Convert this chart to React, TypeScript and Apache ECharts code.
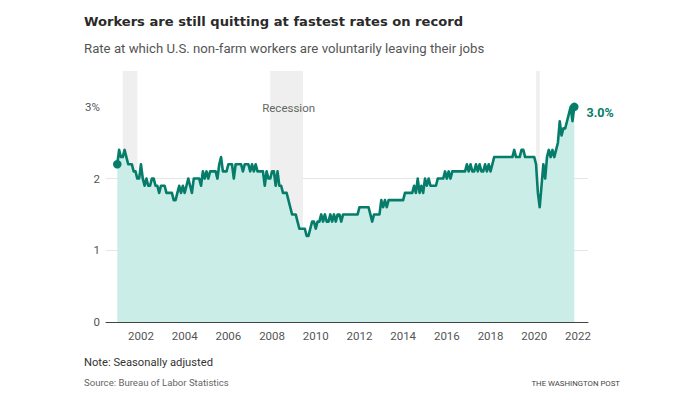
import React, { useEffect, useRef } from "react";
import * as echarts from "echarts";

// Monthly quits rate (%), total non-farm, seasonally adjusted
const startYear = 2000;
const startMonth = 11; // December 2000 (0 = January)
const rate2000 = [2.2];
const rate2001 = [2.4, 2.3, 2.3, 2.4, 2.3, 2.2, 2.2, 2.2, 2.1, 2.1, 2.0, 2.0];
const rate2002 = [2.2, 2.0, 1.9, 2.0, 1.9, 1.9, 2.0, 2.0, 1.9, 1.9, 1.8, 1.9];
const rate2003 = [1.9, 1.9, 1.8, 1.8, 1.8, 1.8, 1.7, 1.7, 1.8, 1.9, 1.8, 1.9];
const rate2004 = [1.8, 1.9, 2.0, 1.9, 1.8, 2.0, 2.0, 2.0, 2.0, 1.9, 2.1, 2.0];
const rate2005 = [2.1, 2.0, 2.1, 2.1, 2.1, 2.1, 2.0, 2.2, 2.3, 2.1, 2.1, 2.1];
const rate2006 = [2.2, 2.2, 2.2, 2.0, 2.2, 2.2, 2.2, 2.2, 2.1, 2.2, 2.2, 2.2];
const rate2007 = [2.1, 2.2, 2.1, 2.2, 2.1, 2.1, 2.1, 2.1, 1.9, 2.1, 2.0, 2.0];
const rate2008 = [2.1, 2.1, 1.9, 2.1, 1.9, 1.9, 1.8, 1.8, 1.8, 1.7, 1.6, 1.5];
const rate2009 = [1.5, 1.5, 1.4, 1.3, 1.3, 1.3, 1.3, 1.2, 1.2, 1.3, 1.4, 1.4];
const rate2010 = [1.3, 1.4, 1.4, 1.5, 1.4, 1.5, 1.4, 1.4, 1.5, 1.4, 1.5, 1.4];
const rate2011 = [1.5, 1.5, 1.4, 1.5, 1.5, 1.5, 1.5, 1.5, 1.5, 1.5, 1.5, 1.5];
const rate2012 = [1.6, 1.6, 1.6, 1.6, 1.6, 1.6, 1.5, 1.4, 1.5, 1.5, 1.5, 1.5];
const rate2013 = [1.7, 1.6, 1.7, 1.6, 1.7, 1.7, 1.7, 1.7, 1.7, 1.7, 1.7, 1.7];
const rate2014 = [1.7, 1.8, 1.8, 1.8, 1.8, 1.8, 1.9, 1.8, 2.0, 1.8, 1.9, 1.8];
const rate2015 = [2.0, 1.9, 2.0, 1.9, 1.9, 1.9, 1.9, 2.0, 2.0, 2.0, 2.0, 2.1];
const rate2016 = [2.0, 2.1, 2.0, 2.1, 2.1, 2.1, 2.1, 2.1, 2.1, 2.1, 2.1, 2.2];
const rate2017 = [2.1, 2.2, 2.1, 2.1, 2.2, 2.1, 2.2, 2.1, 2.1, 2.2, 2.1, 2.2];
const rate2018 = [2.1, 2.2, 2.3, 2.3, 2.3, 2.3, 2.3, 2.3, 2.3, 2.3, 2.3, 2.3];
const rate2019 = [2.3, 2.4, 2.3, 2.3, 2.3, 2.4, 2.4, 2.3, 2.3, 2.3, 2.3, 2.3];
const rate2020 = [2.3, 2.2, 1.8, 1.6, 1.9, 2.2, 2.0, 2.3, 2.4, 2.3, 2.4, 2.3];
const rate2021 = [2.4, 2.5, 2.8, 2.6, 2.7, 2.7, 2.8, 2.9, 3.0, 2.8, 3.0];

// Recessions (decimal years)
const recessionStarts = [2001 + 2 / 12, 2007 + 11 / 12, 2020 + 1 / 12];
const recessionEnds = [2001 + 10 / 12, 2009 + 5 / 12, 2020 + 3 / 12];
const recessionLabelIndex = 1;

const xTickYears = [2002, 2004, 2006, 2008, 2010, 2012, 2014, 2016, 2018, 2020, 2022];
const yTicks = [0, 1, 2, 3];

const allRates = [
  ...rate2000, ...rate2001, ...rate2002, ...rate2003, ...rate2004, ...rate2005,
  ...rate2006, ...rate2007, ...rate2008, ...rate2009, ...rate2010, ...rate2011,
  ...rate2012, ...rate2013, ...rate2014, ...rate2015, ...rate2016, ...rate2017,
  ...rate2018, ...rate2019, ...rate2020, ...rate2021,
];

const TEAL = "#067d6a";
const AREA = "#cbede8";

export default function App() {
  const ref = useRef<HTMLDivElement>(null);
  useEffect(() => {
    if (!ref.current) return;
    const chart = echarts.init(ref.current, null, { renderer: "svg" });
    const points = allRates.map((v, k) => [startYear + (startMonth + k) / 12, v]);
    const first = points[0];
    const last = points[points.length - 1];

    const option: any = {
      animation: false,
      grid: { left: 106, right: 112, top: 71, bottom: 92 },
      xAxis: {
        type: "value",
        min: 2000.4,
        max: 2022.46,
        axisLine: { show: true, onZero: true, lineStyle: { color: "#444", width: 1 } },
        axisTick: { show: false },
        splitLine: { show: false },
        axisLabel: {
          customValues: xTickYears,
          formatter: (v: number) => String(Math.round(v)),
          color: "#555",
          fontFamily: "Roboto",
          fontSize: 11.5,
          margin: 8,
        },
      },
      yAxis: {
        type: "value",
        min: 0,
        max: 3.5,
        interval: 1,
        axisLine: { show: false },
        axisTick: { show: false, customValues: yTicks },
        splitLine: {
          show: true,
          showMinLine: false,
          showMaxLine: false,
          lineStyle: { color: "#e6e6e6", width: 1 },
        },
        axisLabel: {
          customValues: yTicks,
          formatter: (v: number) => (v === yTicks[yTicks.length - 1] ? `${v}%` : String(v)),
          color: "#555",
          fontFamily: "Roboto",
          fontSize: 11.5,
          margin: 6,
        },
      },
      series: [
        {
          type: "line",
          data: [],
          z: 1,
          silent: true,
          markArea: {
            silent: true,
            itemStyle: { color: "#efefef" },
            label: { show: false },
            data: recessionStarts.map((s, i) => [
              {
                xAxis: s,
                name: i === recessionLabelIndex ? "Recession" : "",
                label:
                  i === recessionLabelIndex
                    ? {
                        show: true,
                        position: "insideTop",
                        distance: 31,
                        offset: [2, 0],
                        color: "#666",
                        fontFamily: "Roboto",
                        fontSize: 11.5,
                      }
                    : { show: false },
              },
              { xAxis: recessionEnds[i] },
            ]),
          },
        },
        {
          type: "line",
          data: points,
          z: 3,
          showSymbol: false,
          symbol: "none",
          lineStyle: { color: TEAL, width: 2.6, join: "round" },
          areaStyle: { color: AREA, opacity: 1, origin: "start" },
          silent: true,
        },
        {
          type: "scatter",
          z: 4,
          data: [first, last],
          symbolSize: 8.5,
          itemStyle: { color: TEAL, opacity: 1 },
          silent: true,
          label: {
            show: true,
            position: "right",
            distance: 8,
            offset: [0, 6],
            formatter: (p: any) =>
              p.dataIndex === 1 ? `${p.value[1].toFixed(1)}%` : "",
            color: TEAL,
            fontFamily: "Roboto",
            fontWeight: "bold",
            fontSize: 12.5,
          },
        },
      ],
      graphic: [
        {
          type: "text",
          x: 84,
          y: 21,
          style: {
            text: "Workers are still quitting at fastest rates on record",
            fill: "#2a2a2a",
            font: "bold 13.1px 'DejaVu Sans', Roboto, sans-serif",
            verticalAlign: "middle",
          },
        },
        {
          type: "text",
          x: 84,
          y: 48,
          style: {
            text: "Rate at which U.S. non-farm workers are voluntarily leaving their jobs",
            fill: "#555",
            font: "13.2px Roboto, sans-serif",
            verticalAlign: "middle",
          },
        },
        {
          type: "text",
          x: 84,
          y: 362,
          style: {
            text: "Note: Seasonally adjusted",
            fill: "#333",
            font: "11.2px Roboto, sans-serif",
            verticalAlign: "middle",
          },
        },
        {
          type: "text",
          x: 84,
          y: 382,
          style: {
            text: "Source: Bureau of Labor Statistics",
            fill: "#666",
            font: "9.6px Roboto, sans-serif",
            verticalAlign: "middle",
          },
        },
        {
          type: "text",
          x: 620,
          y: 383,
          style: {
            text: "THE WASHINGTON POST",
            fill: "#444",
            font: "7.8px Roboto, sans-serif",
            align: "right",
            verticalAlign: "middle",
          },
        },
      ],
    };
    chart.setOption(option);
    return () => chart.dispose();
  }, []);
  return <div ref={ref} style={{ width: 700, height: 414, margin: -8 }} />;
}
